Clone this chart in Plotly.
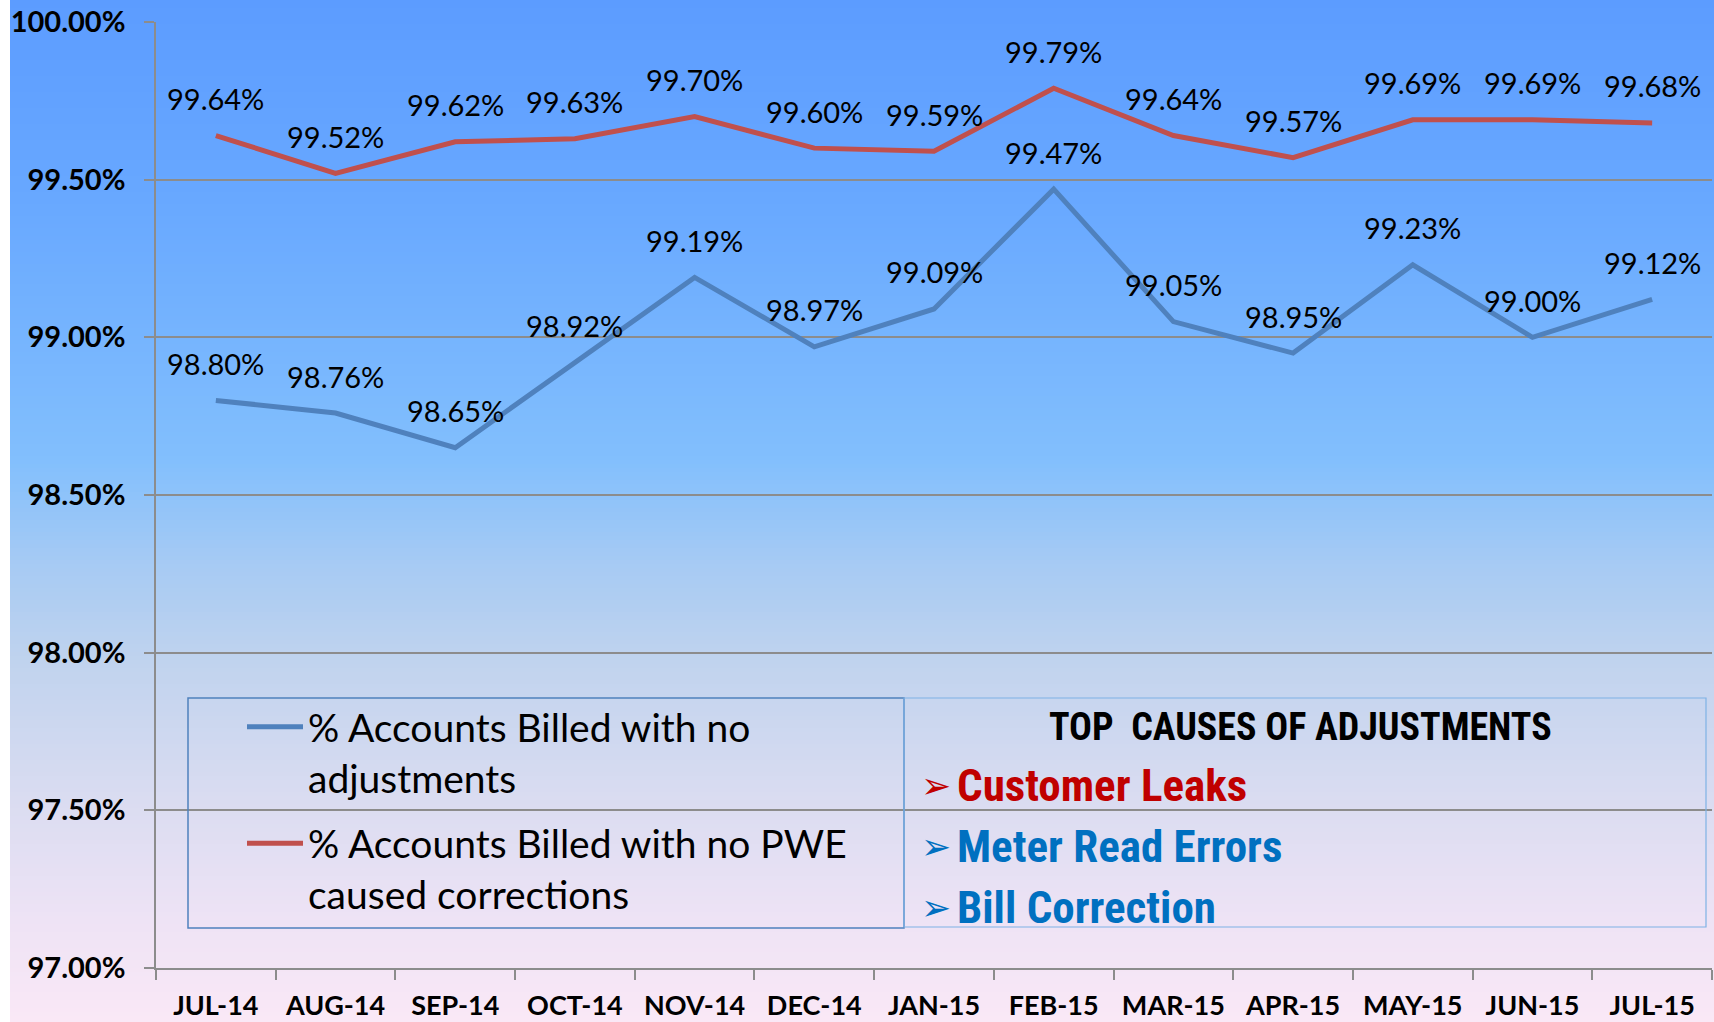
import plotly.graph_objects as go

months = ["JUL-14", "AUG-14", "SEP-14", "OCT-14", "NOV-14", "DEC-14", "JAN-15",
          "FEB-15", "MAR-15", "APR-15", "MAY-15", "JUN-15", "JUL-15"]
no_adjust = [98.80, 98.76, 98.65, 98.92, 99.19, 98.97, 99.09,
             99.47, 99.05, 98.95, 99.23, 99.00, 99.12]
no_pwe = [99.64, 99.52, 99.62, 99.63, 99.70, 99.60, 99.59,
          99.79, 99.64, 99.57, 99.69, 99.69, 99.68]
series_names = ["% Accounts Billed with no<br>adjustments",
                "% Accounts Billed with no PWE<br>caused corrections"]
causes_title = "TOP  CAUSES OF ADJUSTMENTS"
causes = ["Customer Leaks", "Meter Read Errors", "Bill Correction"]

BLUE = "#4F81BD"
RED = "#C0504D"
GRID = "#8C8C8C"

W, H = 1714, 1022
PL, PR, PT, PB = 156, 1712, 22, 968
PW, PH = PR - PL, PB - PT


def px2x(p):
    return (p - PL) / PW


def py2y(p):
    return (PB - p) / PH


fig = go.Figure()
fig.add_trace(go.Scatter(x=months, y=no_adjust, mode="lines", name=series_names[0],
                         legendgroup="a",
                         line=dict(color=BLUE, width=5), hoverinfo="x+y"))
fig.add_trace(go.Scatter(x=months, y=no_pwe, mode="lines", name=series_names[1],
                         legendgroup="b",
                         line=dict(color=RED, width=5), hoverinfo="x+y"))

annotations = []
for series in (no_adjust, no_pwe):
    for m, v in zip(months, series):
        annotations.append(dict(x=m, y=v, xref="x", yref="y", text=f"{v:.2f}%",
                                showarrow=False, yshift=37,
                                font=dict(family="Lato", size=29, color="#000000")))

NARROW = "Liberation Sans Narrow, Roboto Condensed, Roboto"
annotations.append(dict(x=px2x(1300), y=py2y(727), xref="paper", yref="paper",
                        text=causes_title, showarrow=False, xanchor="center", yanchor="middle",
                        font=dict(family=NARROW, size=38, weight="bold", color="#000000")))
cause_colors = ["#C00000", "#0070C0", "#0070C0"]
cause_y = [785, 846, 907]
for txt, col, yy in zip(causes, cause_colors, cause_y):
    annotations.append(dict(x=px2x(936), y=py2y(yy), xref="paper", yref="paper",
                            text="\u27a2", showarrow=False, xanchor="center", yanchor="middle",
                            font=dict(family="DejaVu Sans", size=36, color=col)))
    annotations.append(dict(x=px2x(955), y=py2y(yy), xref="paper", yref="paper",
                            text=txt, showarrow=False, xanchor="left", yanchor="middle",
                            font=dict(family=NARROW, size=45, weight="bold", color=col)))

# background gradient bands
stops = [(0, (92, 156, 255)), (200, (104, 168, 255)), (460, (130, 191, 253)),
         (560, (165, 202, 244)), (660, (192, 211, 238)), (800, (218, 220, 241)),
         (920, (238, 227, 245)), (1022, (250, 232, 246))]


def color_at(p):
    for (y0, c0), (y1, c1) in zip(stops[:-1], stops[1:]):
        if y0 <= p <= y1:
            t = (p - y0) / (y1 - y0)
            return "rgb(%d,%d,%d)" % tuple(round(a + (b - a) * t) for a, b in zip(c0, c1))
    return "rgb(%d,%d,%d)" % stops[-1][1]


shapes = []
step = 4
for y0 in range(0, H, step):
    y1 = min(H, y0 + step + 1)
    shapes.append(dict(type="rect", xref="paper", yref="paper", layer="below",
                       x0=px2x(10), x1=px2x(W), y0=py2y(y1), y1=py2y(y0),
                       line=dict(width=0), fillcolor=color_at(y0 + step / 2)))

shapes.append(dict(type="rect", xref="paper", yref="paper", layer="above",
                   x0=px2x(188), x1=px2x(904), y0=py2y(928), y1=py2y(698),
                   line=dict(color="#4F81BD", width=1.5), fillcolor="rgba(0,0,0,0)"))
shapes.append(dict(type="rect", xref="paper", yref="paper", layer="above",
                   x0=px2x(904), x1=px2x(1706), y0=py2y(927), y1=py2y(698),
                   line=dict(color="#7FB2E5", width=1.2), fillcolor="rgba(0,0,0,0)"))

fig.update_layout(
    width=W, height=H,
    margin=dict(l=PL, r=W - PR, t=PT, b=H - PB, pad=0, autoexpand=False),
    paper_bgcolor="#FFFFFF",
    plot_bgcolor="rgba(0,0,0,0)",
    showlegend=True,
    legend=dict(x=px2x(242), y=py2y(695), xanchor="left", yanchor="top",
                bgcolor="rgba(0,0,0,0)", borderwidth=0, itemwidth=56, valign="top",
                font=dict(family="Lato", size=39, color="#000000"),
                tracegroupgap=12),
    annotations=annotations,
    shapes=shapes,
    xaxis=dict(type="category", categoryorder="array", categoryarray=months,
               range=[-0.5, len(months) - 0.5], automargin=False,
               showgrid=False, showline=True, linecolor=GRID, linewidth=2,
               ticks="outside", tickson="boundaries", ticklen=10, tickcolor=GRID,
               tickwidth=1.5, ticklabelstandoff=13,
               tickfont=dict(family="Lato", size=27, weight="bold", color="#000000"),
               zeroline=False, fixedrange=True),
    yaxis=dict(range=[97, 100], dtick=0.5, tick0=97, tickformat=".2f", ticksuffix="%",
               automargin=False,
               showgrid=True, gridcolor=GRID, gridwidth=1.5,
               showline=True, linecolor=GRID, linewidth=1.5,
               ticks="outside", ticklen=10, tickcolor=GRID, tickwidth=1.5,
               ticklabelstandoff=13,
               tickfont=dict(family="Lato", size=29, weight="bold", color="#000000"),
               zeroline=False, fixedrange=True),
)

fig.write_html("out.html")
